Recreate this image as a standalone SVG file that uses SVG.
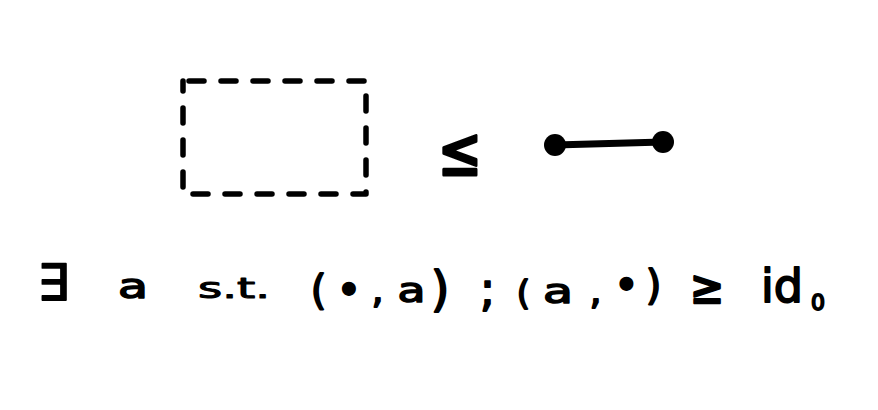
<svg xmlns="http://www.w3.org/2000/svg" width="878" height="410" viewBox="0 0 878 410">
<style>
.t{font-family:"DejaVu Sans","Liberation Sans",sans-serif;fill:#000;stroke:#000;stroke-width:1.8;stroke-linejoin:round;font-size:38px;text-anchor:middle}
.ink{stroke:#000;fill:none;stroke-linecap:round;stroke-linejoin:round}
</style>
<rect width="878" height="410" fill="#fff"/>
<g id="dashed-box">
<rect class="ink" x="183" y="81" width="183" height="113" stroke-width="5.5" stroke-dasharray="15 17" stroke-dashoffset="-6"/>
</g>
<g id="leq">
<text class="t" x="460" y="175" style="font-size:68px;stroke-width:3" textLength="44" lengthAdjust="spacingAndGlyphs">≤</text>
</g>
<g id="edge">
<line class="ink" x1="555" y1="145" x2="663" y2="142" stroke-width="7"/>
<circle cx="555" cy="145" r="11"/>
<circle cx="663" cy="142" r="11"/>
</g>
<g id="formula">
<text class="t" x="53.5" y="300" style="font-size:50px;stroke-width:1.8">∃</text>
<text class="t" x="133" y="298" style="font-size:34px;stroke-width:1.5" textLength="30" lengthAdjust="spacingAndGlyphs">a</text>
<text class="t" x="234" y="298" style="font-size:28px;stroke-width:1" textLength="72" lengthAdjust="spacingAndGlyphs">s.t.</text>
<text class="t" x="318.5" y="304" style="font-size:40px">(</text>
<text class="t" x="349" y="305" style="font-size:42px">•</text>
<text class="t" x="377.5" y="303">,</text>
<text class="t" x="411.5" y="302" style="font-size:34px;stroke-width:1.5" textLength="28" lengthAdjust="spacingAndGlyphs">a</text>
<text class="t" x="440" y="306" style="font-size:48px">)</text>
<text class="t" x="487.5" y="306" style="font-size:46px">;</text>
<text class="t" x="523.5" y="305" style="font-size:34px">(</text>
<text class="t" x="558" y="303" style="font-size:34px;stroke-width:1.5" textLength="30" lengthAdjust="spacingAndGlyphs">a</text>
<text class="t" x="595.5" y="304">,</text>
<text class="t" x="626.5" y="300" style="font-size:42px">•</text>
<text class="t" x="653.5" y="299" style="font-size:40px">)</text>
<text class="t" x="707" y="303" style="font-size:46px;stroke-width:2.5" textLength="34" lengthAdjust="spacingAndGlyphs">≥</text>
<text class="t" x="782" y="302" style="font-size:46px">id</text>
<text class="t" x="818" y="310" style="font-size:22px">0</text>
</g>
</svg>
